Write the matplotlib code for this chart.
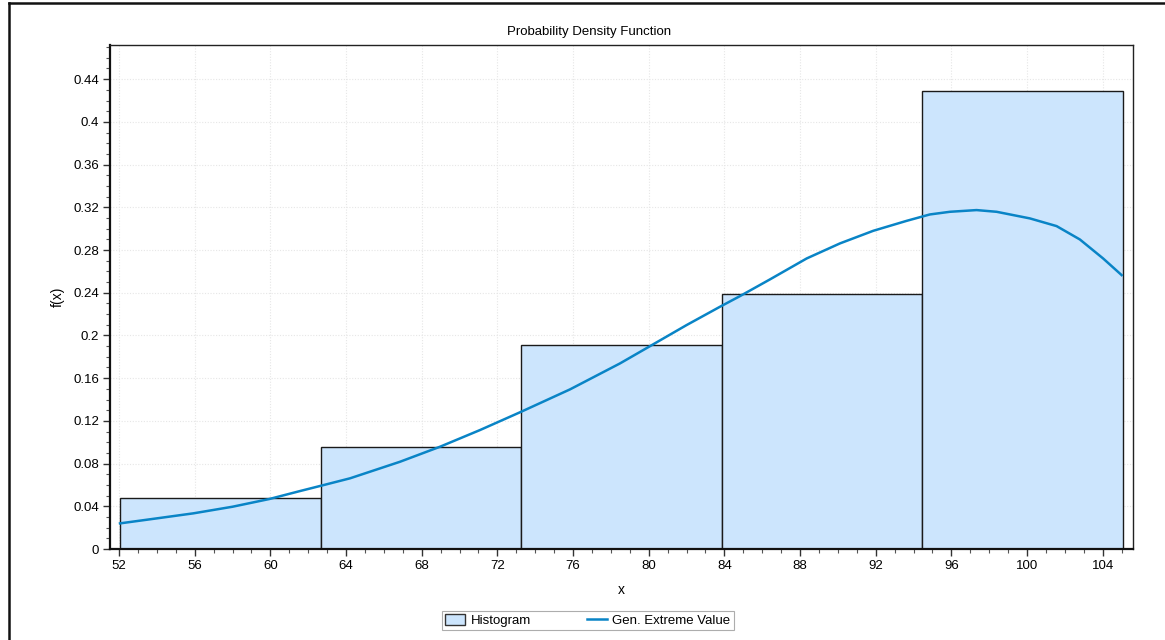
import matplotlib
matplotlib.use("Agg")
import matplotlib.pyplot as plt
from matplotlib.lines import Line2D
from matplotlib.patches import Patch
from matplotlib.ticker import MultipleLocator, FuncFormatter

plt.rcParams['font.family'] = ['Liberation Sans', 'DejaVu Sans']

# Histogram bins (relative frequencies)
bin_edges = [52.05, 62.65, 73.25, 83.85, 94.45, 105.05]
bin_heights = [0.0477, 0.0955, 0.191, 0.2387, 0.4288]

# Fitted Gen. Extreme Value density
curve_x = [52.05, 54.0, 55.93, 58.0, 59.94, 61.57, 62.62, 64.21, 66.85, 68.97,
           71.08, 73.19, 75.84, 78.48, 80.07, 82.0, 83.76, 84.82, 86.41, 88.35,
           90.11, 91.87, 93.63, 94.86, 95.92, 97.33, 98.39, 100.15, 101.56,
           102.79, 104.02, 105.0]
curve_y = [0.024, 0.0287, 0.0334, 0.0396, 0.0468, 0.0543, 0.059, 0.0662, 0.0817,
           0.0958, 0.1114, 0.128, 0.1495, 0.1738, 0.190, 0.2097, 0.2268, 0.2368,
           0.2525, 0.2721, 0.2862, 0.298, 0.3073, 0.3133, 0.3158, 0.3174, 0.3158,
           0.3096, 0.3024, 0.2899, 0.2721, 0.2565]

W, H = 1165, 640
fig = plt.figure(figsize=(W / 100, H / 100), dpi=100)
ax = fig.add_axes([110 / W, 1 - 549 / H, (1133 - 110) / W, (549 - 45) / H])

fill = '#cce5fd'
line_col = '#0984c6'

widths = [b - a for a, b in zip(bin_edges[:-1], bin_edges[1:])]
ax.bar(bin_edges[:-1], bin_heights, width=widths, align='edge',
       color=fill, edgecolor='#1a1a1a', linewidth=1.0, zorder=2)
ax.plot(curve_x, curve_y, color=line_col, linewidth=1.8, zorder=3)

ax.set_xlim(51.52, 105.6)
ax.set_ylim(0, 0.472)

ax.xaxis.set_major_locator(MultipleLocator(4))
ax.xaxis.set_minor_locator(MultipleLocator(1))
ax.yaxis.set_major_locator(MultipleLocator(0.04))
ax.yaxis.set_minor_locator(MultipleLocator(0.01))


def fmt(v, pos):
    s = f"{v:.2f}".rstrip('0').rstrip('.')
    return s


ax.yaxis.set_major_formatter(FuncFormatter(fmt))

ax.tick_params(axis='both', which='major', length=5, width=1, color='#333333',
               labelsize=9.5, direction='out', pad=3)
ax.tick_params(axis='both', which='minor', length=3, width=0.8, color='#555555',
               direction='out')

ax.grid(True, which='major', color='#e6e6e6', linestyle=(0, (1, 1.5)),
        linewidth=0.8, zorder=0)
ax.set_axisbelow(True)

for side in ['left', 'bottom']:
    ax.spines[side].set_linewidth(1.6)
    ax.spines[side].set_color('#111111')
for side in ['top', 'right']:
    ax.spines[side].set_linewidth(1.0)
    ax.spines[side].set_color('#222222')

ax.set_xlabel('x', fontsize=10, labelpad=8)
ax.set_ylabel('f(x)', fontsize=10, labelpad=6)

fig.text(589 / W, 1 - 32 / H, 'Probability Density Function',
         ha='center', va='center', fontsize=9.5)

handles = [Patch(facecolor=fill, edgecolor='#333333', linewidth=1.0),
           Line2D([0], [0], color=line_col, linewidth=1.8)]
leg = fig.legend(handles, ['Histogram', 'Gen. Extreme Value'],
                 loc='center', bbox_to_anchor=(588 / W, 1 - 620.5 / H),
                 ncol=2, frameon=True, fancybox=False, fontsize=9.5,
                 handlelength=1.5, handleheight=0.9, columnspacing=4.3,
                 handletextpad=0.4, borderpad=0.25, borderaxespad=0)
leg.get_frame().set_edgecolor('#999999')
leg.get_frame().set_linewidth(0.8)

# Outer frame lines along the top and left edges of the figure
fig.add_artist(Line2D([9 / W, 9 / W], [0, 1 - 3 / H], transform=fig.transFigure,
                      color='#111111', linewidth=1.8))
fig.add_artist(Line2D([9 / W, 1], [1 - 3 / H, 1 - 3 / H], transform=fig.transFigure,
                      color='#111111', linewidth=1.8))

fig.savefig('out.png', dpi=100, facecolor='white')
